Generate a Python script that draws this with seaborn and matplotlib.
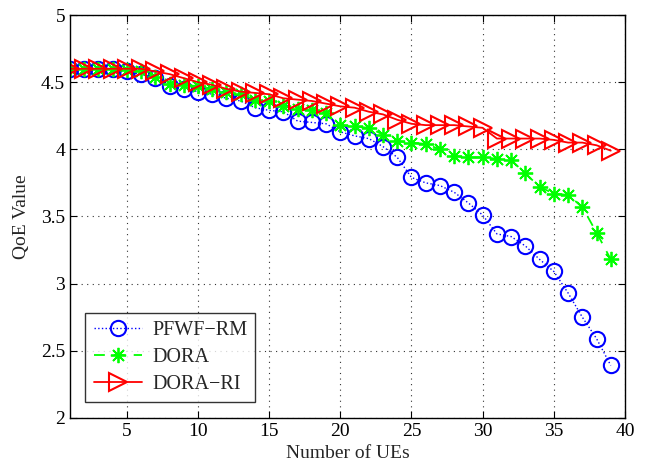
import numpy as np
import pandas as pd
import seaborn as sns
import matplotlib
matplotlib.use("Agg")
import matplotlib.pyplot as plt
from matplotlib.ticker import FuncFormatter

# data
num_ues = list(range(1, 40))

pfwf_rm = [4.60, 4.60, 4.60, 4.60, 4.58, 4.56, 4.53, 4.47, 4.45, 4.43,
           4.41, 4.38, 4.36, 4.31, 4.29, 4.28, 4.21, 4.20, 4.19, 4.13,
           4.10, 4.08, 4.02, 3.94, 3.79, 3.75, 3.73, 3.68, 3.60, 3.51,
           3.37, 3.35, 3.28, 3.18, 3.09, 2.93, 2.75, 2.59, 2.39]

dora = [4.60, 4.60, 4.60, 4.60, 4.59, 4.58, 4.54, 4.49, 4.48, 4.47,
        4.45, 4.43, 4.41, 4.37, 4.36, 4.32, 4.30, 4.29, 4.27, 4.18,
        4.17, 4.16, 4.11, 4.06, 4.05, 4.04, 4.00, 3.95, 3.94, 3.94,
        3.93, 3.92, 3.82, 3.72, 3.67, 3.66, 3.57, 3.38, 3.18]

dora_ri = [4.60, 4.60, 4.60, 4.60, 4.60, 4.60, 4.58, 4.56, 4.53, 4.50,
           4.48, 4.45, 4.43, 4.42, 4.41, 4.38, 4.37, 4.36, 4.34, 4.32,
           4.31, 4.28, 4.26, 4.22, 4.19, 4.18, 4.18, 4.18, 4.17, 4.16,
           4.08, 4.08, 4.08, 4.08, 4.07, 4.05, 4.05, 4.03, 3.99]

series_names = ["PFWF\u2212RM", "DORA", "DORA\u2212RI"]

sns.set_style("ticks")
plt.rcParams["font.family"] = ["Liberation Serif", "DejaVu Serif"]

fig = plt.figure(figsize=(6.47, 4.70), dpi=100)
ax = fig.add_axes([0.108, 0.111, 0.858, 0.857])

sns.lineplot(x=num_ues, y=pfwf_rm, ax=ax, color="#0000ff", linestyle=":",
             linewidth=1.0, marker="o", markersize=11, markerfacecolor="none",
             markeredgecolor="#0000ff", markeredgewidth=1.5, label=series_names[0])
sns.lineplot(x=num_ues, y=dora, ax=ax, color="#00ff00", linestyle=(0, (6, 5)),
             linewidth=1.3, marker=(8, 2, 0), markersize=11,
             markeredgecolor="#00ff00", markeredgewidth=1.3, label=series_names[1])
sns.lineplot(x=num_ues, y=dora_ri, ax=ax, color="#ff0000", linestyle="-",
             linewidth=1.3, marker=">", markersize=13, markerfacecolor="none",
             markeredgecolor="#ff0000", markeredgewidth=1.5, label=series_names[2])

ax.set_xlim(1, 40)
ax.set_ylim(2, 5)
ax.set_xticks([5, 10, 15, 20, 25, 30, 35, 40])
ax.set_yticks([2, 2.5, 3, 3.5, 4, 4.5, 5])
ax.yaxis.set_major_formatter(FuncFormatter(lambda v, p: "%g" % v))
ax.grid(True, linestyle=(0, (1, 4)), color="#333333", linewidth=0.8)
ax.tick_params(direction="in", labelsize=14, length=5, top=True, right=True,
               colors="black")
for sp in ax.spines.values():
    sp.set_visible(True)
    sp.set_color("black")
    sp.set_linewidth(1.0)

ax.set_xlabel("Number of UEs", fontsize=14, labelpad=4)
ax.set_ylabel("QoE Value", fontsize=14, labelpad=8)

leg = ax.legend(loc="lower left", bbox_to_anchor=(0.01, 0.015), fontsize=14.5,
                frameon=True, fancybox=False, edgecolor="black",
                handlelength=2.4, handletextpad=0.5, borderpad=0.4,
                labelspacing=0.38)
leg.get_frame().set_linewidth(1.0)

fig.savefig("out.png", dpi=100)
